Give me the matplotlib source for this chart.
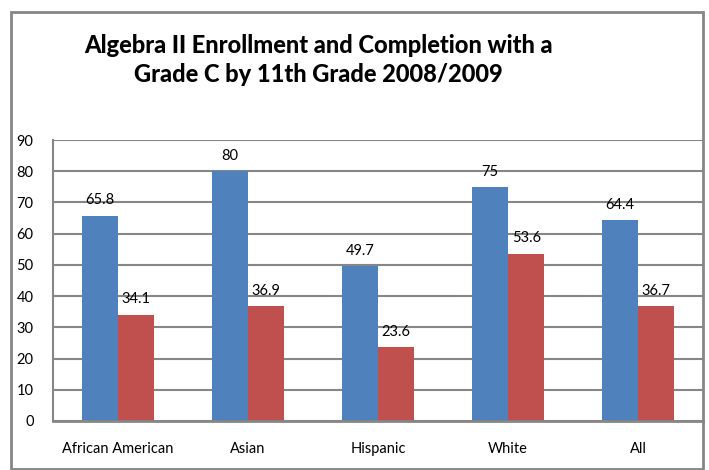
import numpy as np
import matplotlib
matplotlib.use("Agg")
import matplotlib.pyplot as plt
from matplotlib.patches import Rectangle

categories = ["African American", "Asian", "Hispanic", "White", "All"]
enrolled = [65.8, 80, 49.7, 75, 64.4]
completed = [34.1, 36.9, 23.6, 53.6, 36.7]
y_ticks = [0, 10, 20, 30, 40, 50, 60, 70, 80, 90]

plt.rcParams["font.family"] = ["Lato", "DejaVu Sans"]

fig = plt.figure(figsize=(7.09, 4.70), dpi=100)
ax = fig.add_axes([53 / 709, 49 / 470, 650 / 709, 281 / 470])

x = np.arange(len(categories))
w = 0.28
b1 = ax.bar(x - w / 2, enrolled, w, color="#4F81BD")
b2 = ax.bar(x + w / 2, completed, w, color="#C0504D")

# data labels
for bars, vals in [(b1, enrolled), (b2, completed)]:
    for bar, v in zip(bars, vals):
        label = f"{v:g}"
        ax.annotate(label, (bar.get_x() + bar.get_width() / 2, v),
                    xytext=(0, 11), textcoords="offset points",
                    ha="center", va="center", fontsize=10.5, color="#000000")

ax.set_xlim(-0.5, len(categories) - 0.5)
ax.set_ylim(0, 90)
ax.set_yticks(y_ticks)
ax.set_xticks(x)
ax.set_xticklabels(categories)
ax.tick_params(axis="both", length=0, labelsize=10.5)
ax.tick_params(axis="y", pad=14)
ax.tick_params(axis="x", pad=15)
ax.grid(axis="y", color="#868686", linewidth=1.5)
ax.set_axisbelow(True)
for s in ["top", "right"]:
    ax.spines[s].set_visible(False)
ax.spines["left"].set_color("#868686")
ax.spines["left"].set_linewidth(1.5)
ax.spines["bottom"].set_color("#868686")
ax.spines["bottom"].set_linewidth(2)

fig.text(0.449, 0.872, "Algebra II Enrollment and Completion with a\nGrade C by 11th Grade 2008/2009",
         ha="center", va="center", fontsize=17, fontweight="black", linespacing=1.35)

# outer chart border
fig.patches.append(Rectangle((11 / 709, 1 / 470), 692 / 709, 457 / 470,
                             transform=fig.transFigure, fill=False,
                             edgecolor="#868686", linewidth=2))

fig.savefig("out.png", dpi=100)
